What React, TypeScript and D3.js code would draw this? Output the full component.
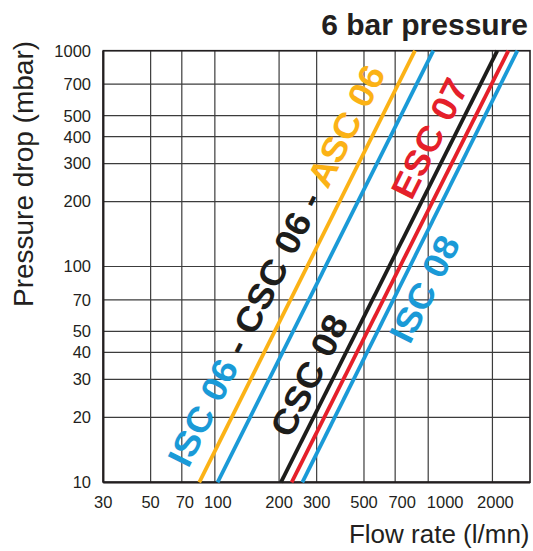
import React from "react";
import * as d3 from "d3";

// ---- data ----
const flowTicks = [30, 50, 70, 100, 200, 300, 500, 700, 1000, 2000];
const pressureTicks = [10, 20, 30, 40, 50, 70, 100, 200, 300, 400, 500, 700, 1000];

// [flow l/mn, pressure mbar]
const asc06: [number, number][] = [[84.5, 10], [867, 1000]];
const isc06: [number, number][] = [[103, 10], [1057, 1000]];
const csc08: [number, number][] = [[204, 10], [2109, 1000]];
const esc07: [number, number][] = [[229, 10], [2376, 1000]];
const isc08: [number, number][] = [[257, 10], [2619, 1000]];

const seriesNames = ["ASC 06", "ISC 06", "CSC 08", "ESC 07", "ISC 08"];
const seriesValues = [asc06, isc06, csc08, esc07, isc08];

// label texts and their anchor points [flow, pressure]
const label1Parts = ["ISC 06", " - CSC 06 - ", "ASC 06"];
const label1Anchor: [number, number] = [75, 11.5];
const labelCsc08 = "CSC 08";
const labelCsc08Anchor: [number, number] = [227, 15.8];
const labelEsc07 = "ESC 07";
const labelEsc07Anchor: [number, number] = [835, 200];
const labelIsc08 = "ISC 08";
const labelIsc08Anchor: [number, number] = [820, 43];

const title = "6 bar pressure";
const xTitle = "Flow rate (l/mn)";
const yTitle = "Pressure drop (mbar)";

// ---- style ----
const W = 533;
const H = 551;
const ORANGE = "#fbb216";
const BLUE = "#1a9ad7";
const RED = "#e5202a";
const BLACK = "#1d1d1b";
const TEXT = "#231f20";
const FONT = "'Liberation Sans', Arial, Helvetica, sans-serif";
const seriesColors = [ORANGE, BLUE, BLACK, RED, BLUE];
const label1Colors = [BLUE, BLACK, ORANGE];
const xLabelNudge: Record<number, number> = { 70: 3, 100: 3, 700: 7, 1000: 17, 2000: 3 };

export default function App() {
  const x = d3.scaleLog().domain([30, 3000]).range([103.3, 530]);
  const y = d3.scaleLog().domain([10, 1000]).range([482.3, 50.7]);
  const line = d3
    .line<[number, number]>()
    .x((d) => x(d[0]))
    .y((d) => y(d[1]));

  const angle =
    (Math.atan2(y(asc06[1][1]) - y(asc06[0][1]), x(asc06[1][0]) - x(asc06[0][0])) * 180) /
    Math.PI;

  const labelFs = 35;
  const stretch = 1.07;
  const tf = (a: [number, number]) =>
    `translate(${x(a[0])},${y(a[1])}) rotate(${angle}) scale(${stretch},1)`;

  const [x0, x1] = x.range();
  const [y0, y1] = y.range();

  return (
    <svg
      width={W}
      height={H}
      style={{ position: "absolute", left: 0, top: 0, display: "block", background: "#fff" }}
      fontFamily={FONT}
    >
      {/* grid */}
      <g stroke="#3c3c3c" strokeWidth={1.2}>
        {flowTicks.slice(1).map((t) => (
          <line key={"gx" + t} x1={x(t)} x2={x(t)} y1={y1} y2={y0} />
        ))}
        {pressureTicks.slice(1).map((t) => (
          <line key={"gy" + t} x1={x0} x2={x1} y1={y(t)} y2={y(t)} />
        ))}
      </g>
      {/* frame */}
      <rect x={x0} y={y1} width={x1 - x0} height={y0 - y1} fill="none" stroke={TEXT} strokeWidth={1.6} />
      <line x1={x0} x2={x0} y1={y1} y2={y0} stroke={TEXT} strokeWidth={2.2} />
      <line x1={x0} x2={x1} y1={y0} y2={y0} stroke={TEXT} strokeWidth={2.2} />

      {/* series */}
      {seriesValues.map((s, i) => (
        <path key={seriesNames[i]} d={line(s) || ""} fill="none" stroke={seriesColors[i]} strokeWidth={3.8} />
      ))}

      {/* line labels */}
      <g fontWeight="bold" fontSize={labelFs} style={{ whiteSpace: "pre" }}>
        <text transform={tf(label1Anchor)}>
          {label1Parts.map((p, i) => (
            <tspan key={i} fill={label1Colors[i]}>
              {p}
            </tspan>
          ))}
        </text>
        <text transform={tf(labelCsc08Anchor)} fill={BLACK}>
          {labelCsc08}
        </text>
        <text transform={tf(labelEsc07Anchor)} fill={RED}>
          {labelEsc07}
        </text>
        <text transform={tf(labelIsc08Anchor)} fill={BLUE}>
          {labelIsc08}
        </text>
      </g>

      {/* axis tick labels */}
      <g fill={TEXT} fontSize={16.5}>
        {flowTicks.map((t) => (
          <text key={"tx" + t} x={x(t) + (xLabelNudge[t] || 0)} y={507.5} textAnchor="middle">
            {t}
          </text>
        ))}
        {pressureTicks.map((t) => (
          <text key={"ty" + t} x={91} y={y(t)} dy="0.36em" textAnchor="end">
            {t}
          </text>
        ))}
      </g>

      {/* titles */}
      <text x={528} y={34.5} textAnchor="end" fontWeight="bold" fontSize={30} fill={TEXT}>
        {title}
      </text>
      <text x={529.5} y={543} textAnchor="end" fontSize={26} fill={TEXT}>
        {xTitle}
      </text>
      <text
        transform={`translate(32.5,${(40 + 308) / 2}) rotate(-90)`}
        textAnchor="middle"
        fontSize={28}
        fill={TEXT}
      >
        {yTitle}
      </text>
    </svg>
  );
}
